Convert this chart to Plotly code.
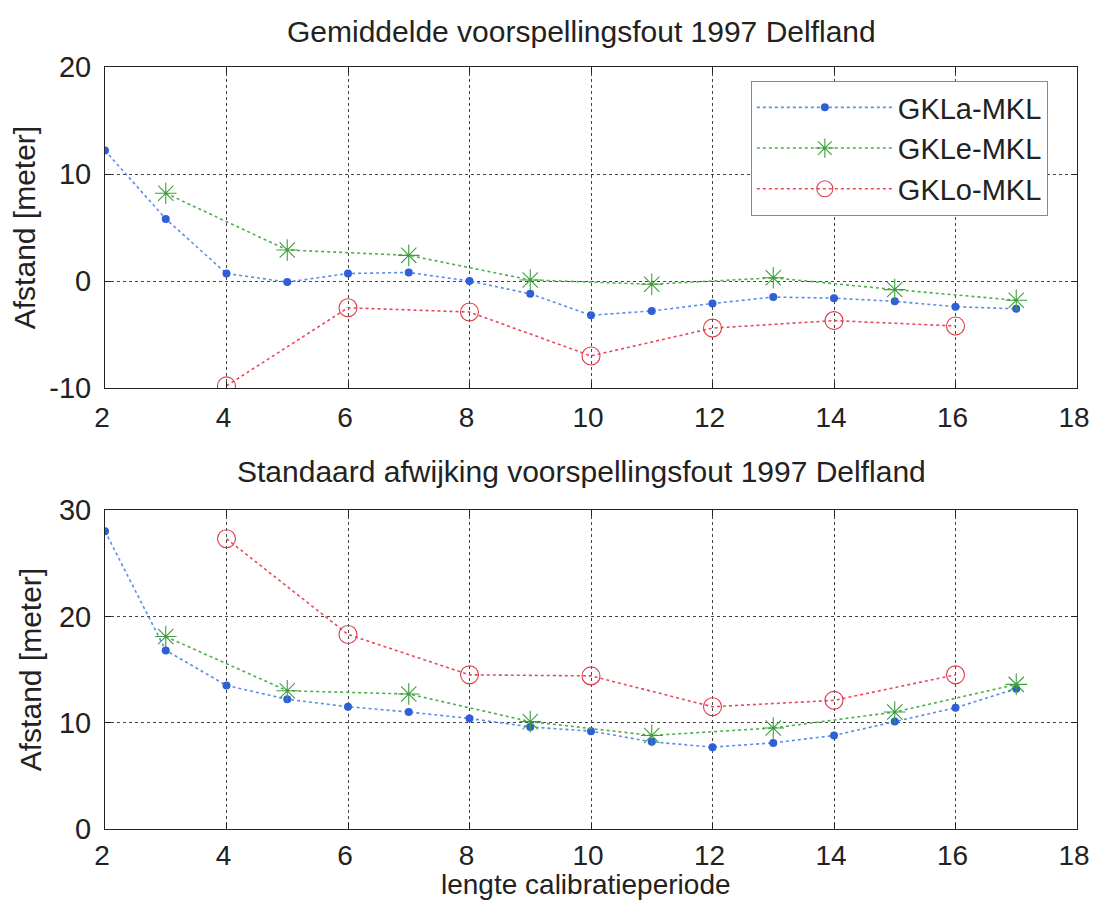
import plotly.graph_objects as go

# ---- data ----
x_a = [2, 3, 4, 5, 6, 7, 8, 9, 10, 11, 12, 13, 14, 15, 16, 17]
x_e = [3, 5, 7, 9, 11, 13, 15, 17]
x_o = [4, 6, 8, 10, 12, 14, 16]

mean_a = [12.2, 5.8, 0.7, -0.1, 0.7, 0.8, 0.0, -1.2, -3.2, -2.8, -2.1, -1.5, -1.6, -1.9, -2.4, -2.6]
mean_e = [8.2, 2.9, 2.4, 0.1, -0.3, 0.3, -0.8, -1.8]
mean_o = [-9.8, -2.5, -2.9, -7.0, -4.4, -3.7, -4.2]

std_a = [28.0, 16.8, 13.5, 12.2, 11.5, 11.0, 10.4, 9.6, 9.2, 8.2, 7.7, 8.1, 8.8, 10.1, 11.4, 13.2]
std_e = [18.1, 13.0, 12.7, 10.1, 8.8, 9.5, 11.0, 13.6]
std_o = [27.3, 18.3, 14.5, 14.4, 11.5, 12.1, 14.5]

names = ["GKLa-MKL", "GKLe-MKL", "GKLo-MKL"]
x_ticks = [2, 4, 6, 8, 10, 12, 14, 16, 18]
y_top_ticks = [-10, 0, 10, 20]
y_top_labels = ["-10", "0", "10", "20"]
y_bot_ticks = [0, 10, 20, 30]
y_bot_labels = ["0", "10", "20", "30"]

title_top = "Gemiddelde voorspellingsfout 1997 Delfland"
title_bot = "Standaard afwijking voorspellingsfout 1997 Delfland"
ytitle = "Afstand [meter]"
xtitle = "lengte calibratieperiode"

# ---- styles ----
FONT = "Liberation Sans, Arial, Helvetica, sans-serif"
TXT = "#222"
blue_line, blue_mk = "#5b8de8", "#2f5fd6"
green_line, green_mk = "#4caf4c", "#3c9e3c"
red_line, red_mk = "#e8485a", "#e03848"

def series(x, y, name, lc, mc, symbol, size, xa, ya, show):
    mk = dict(symbol=symbol, size=size, color=mc)
    if symbol != "circle":
        mk["line"] = dict(color=mc, width=1.1)
    return go.Scatter(
        x=x, y=y, name=name, mode="lines+markers",
        line=dict(color=lc, dash="dot", width=1.6),
        marker=mk, xaxis=xa, yaxis=ya, showlegend=show,
    )

fig = go.Figure()
fig.add_trace(series(x_a, mean_a, names[0], blue_line, blue_mk, "circle", 8, "x", "y", True))
fig.add_trace(series(x_e, mean_e, names[1], green_line, green_mk, "asterisk-open", 18, "x", "y", True))
fig.add_trace(series(x_o, mean_o, names[2], red_line, red_mk, "circle-open", 18, "x", "y", True))
fig.add_trace(series(x_a, std_a, names[0], blue_line, blue_mk, "circle", 8, "x2", "y2", False))
fig.add_trace(series(x_e, std_e, names[1], green_line, green_mk, "asterisk-open", 18, "x2", "y2", False))
fig.add_trace(series(x_o, std_o, names[2], red_line, red_mk, "circle-open", 18, "x2", "y2", False))

axis_common = dict(
    showline=True, linecolor="#222", linewidth=1, mirror="ticks",
    ticks="inside", ticklen=6, tickcolor="#222",
    showgrid=True, gridcolor="#444", griddash="dot", gridwidth=1,
    zeroline=False, automargin=False,
)
ytick_font = dict(size=29, color=TXT, family=FONT)
xtick_font = dict(size=28, color=TXT, family=FONT)
title_font = dict(size=30, family=FONT, color=TXT)
xtitle_font = dict(size=28, family=FONT, color=TXT)

# page body has an 8px margin, so the figure is 16px smaller than the window
fig.update_layout(
    width=1082, height=894,
    margin=dict(l=97, r=13, t=59, b=73),
    paper_bgcolor="white", plot_bgcolor="white",
    font=dict(family=FONT, color=TXT),
    xaxis=dict(domain=[0, 1], anchor="y", range=[2, 18], tickvals=x_ticks, ticklabelstandoff=4,
               ticklabelshift=-3, ticklabeloverflow="allow", tickfont=xtick_font, **axis_common),
    yaxis=dict(domain=[0.5787, 1], anchor="x", range=[-10, 20], tickvals=y_top_ticks, ticktext=y_top_labels,
               ticklabelstandoff=7, tickfont=ytick_font,
               title=dict(text=ytitle, font=title_font, standoff=8), **axis_common),
    xaxis2=dict(domain=[0, 1], anchor="y2", range=[2, 18], tickvals=x_ticks, ticklabelstandoff=1,
                ticklabelshift=-3, ticklabeloverflow="allow", tickfont=xtick_font, **axis_common),
    yaxis2=dict(domain=[0, 0.4186], anchor="x2", range=[0, 30], tickvals=y_bot_ticks, ticktext=y_bot_labels,
                ticklabelstandoff=7, tickfont=ytick_font,
                title=dict(text=ytitle, font=title_font, standoff=8), **axis_common),
    legend=dict(
        x=0.970, y=0.9816, xanchor="right", yanchor="top",
        bgcolor="white", bordercolor="#888", borderwidth=1,
        font=dict(size=29, family=FONT, color=TXT),
        itemwidth=136, tracegroupgap=0,
    ),
    annotations=[
        dict(text=title_top, x=0.49, y=1.047, xref="paper", yref="paper",
             xanchor="center", yanchor="middle", showarrow=False, font=title_font),
        dict(text=title_bot, x=0.49, y=0.4698, xref="paper", yref="paper",
             xanchor="center", yanchor="middle", showarrow=False, font=title_font),
        dict(text=xtitle, x=0.495, y=-0.0955, xref="paper", yref="paper",
             xanchor="center", yanchor="bottom", showarrow=False, font=xtitle_font),
    ],
)

fig.write_html("out.html")
